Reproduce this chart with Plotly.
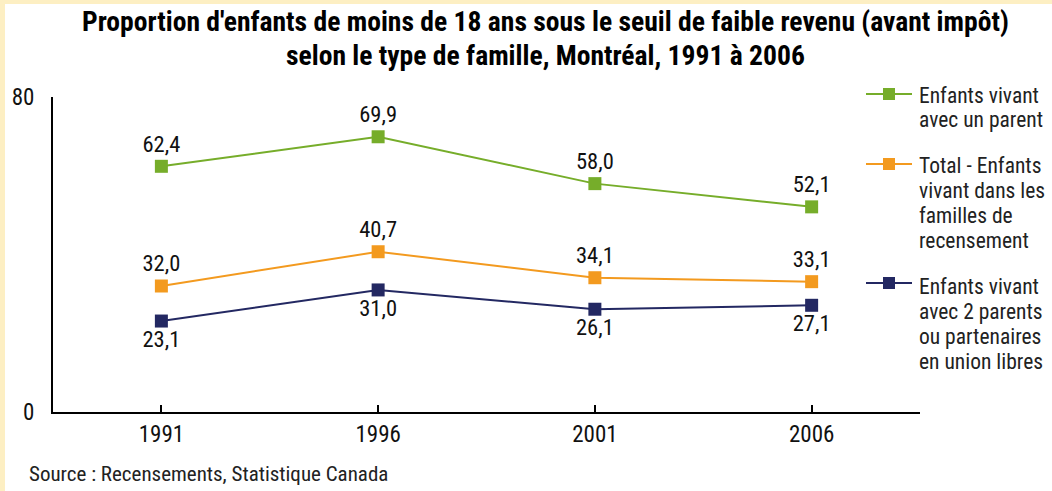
import plotly.graph_objects as go

years = ["1991", "1996", "2001", "2006"]
un_parent = [62.4, 69.9, 58.0, 52.1]
total = [32.0, 40.7, 34.1, 33.1]
deux_parents = [23.1, 31.0, 26.1, 27.1]

legend_lines = [
    ["Enfants vivant", "avec un parent"],
    ["Total - Enfants", "vivant dans les", "familles de", "recensement"],
    ["Enfants vivant", "avec 2 parents", "ou partenaires", "en union libres"],
]
colors = ["#76ad2a", "#f39a1f", "#232862"]
FONT = "Liberation Sans Narrow, Arial Narrow, Roboto Condensed, Roboto, sans-serif"

W, H = 1052, 491
L, R, T, B = 53, 132, 97, 79
pw, ph = W - L - R, H - T - B


def px(x):
    return (x - L) / pw


def py(y):
    return (H - B - y) / ph


fig = go.Figure()
series = [(un_parent, "top center"), (total, "top center"), (deux_parents, "bottom center")]
for (vals, pos), nm, c in zip(series, legend_lines, colors):
    fig.add_trace(go.Scatter(
        x=years, y=vals, mode="lines+markers+text", name=" ".join(nm),
        line=dict(color=c, width=2),
        marker=dict(symbol="square", size=13, color=c),
        texttemplate="%{y:.1f}", textposition=pos,
        textfont=dict(family=FONT, size=22.5, color="#111111"),
        showlegend=False, cliponaxis=False,
    ))

shapes = [
    dict(type="rect", xref="paper", yref="paper", x0=px(-5), x1=px(W + 5), y0=py(-5), y1=py(H + 5),
         fillcolor="#fdefc3", line=dict(width=0), layer="below"),
    dict(type="rect", xref="paper", yref="paper", x0=px(5), x1=px(W + 5), y0=py(4), y1=py(H + 5),
         fillcolor="white", line=dict(width=0), layer="below"),
]
annotations = [
    dict(text="<b>Proportion d'enfants de moins de 18 ans sous le seuil de faible revenu (avant impôt)</b>",
         xref="paper", yref="paper", x=px(545), y=py(22), xanchor="center", yanchor="middle",
         showarrow=False, font=dict(family=FONT, size=27.6, color="black")),
    dict(text="<b>selon le type de famille, Montréal, 1991 à 2006</b>",
         xref="paper", yref="paper", x=px(545), y=py(55), xanchor="center", yanchor="middle",
         showarrow=False, font=dict(family=FONT, size=27.6, color="black")),
    dict(text="Source : Recensements, Statistique Canada",
         xref="paper", yref="paper", x=px(27), y=py(474), xanchor="left", yanchor="middle",
         showarrow=False, font=dict(family=FONT, size=21, color="#222222")),
]

# manual legend
leg_first = [95, 165, 286]
leg_line = [94, 164, 283]
for lines, c, y0, yl in zip(legend_lines, colors, leg_first, leg_line):
    shapes.append(dict(type="line", xref="paper", yref="paper", x0=px(866), x1=px(912),
                       y0=py(yl), y1=py(yl), line=dict(color=c, width=2)))
    shapes.append(dict(type="rect", xref="paper", yref="paper", x0=px(883), x1=px(895),
                       y0=py(yl - 6), y1=py(yl + 6), fillcolor=c, line=dict(width=0)))
    for i, t in enumerate(lines):
        annotations.append(dict(text=t, xref="paper", yref="paper", x=px(917), y=py(y0 + 25 * i),
                                xanchor="left", yanchor="middle", align="left", showarrow=False,
                                font=dict(family=FONT, size=21.5, color="#222222")))

fig.update_layout(
    width=W, height=H,
    margin=dict(l=L, r=R, t=T, b=B),
    paper_bgcolor="white", plot_bgcolor="white",
    separators=", ",
    shapes=shapes, annotations=annotations,
    xaxis=dict(type="category", range=[-0.5, 3.5], showline=True, linecolor="black", linewidth=2,
               ticks="inside", ticklen=7, tickwidth=2, tickcolor="black", showgrid=False,
               zeroline=False, ticklabelstandoff=0,
               tickfont=dict(family=FONT, size=23, color="#111111")),
    yaxis=dict(range=[0, 80], tickvals=[0, 80], showline=True, linecolor="black", linewidth=2,
               ticks="", showgrid=False, zeroline=False, ticklabelstandoff=12,
               tickfont=dict(family=FONT, size=23, color="#111111")),
)

fig.write_html("out.html", config={"displayModeBar": False},
               post_script="document.body.style.margin='0';document.body.style.padding='0';")
